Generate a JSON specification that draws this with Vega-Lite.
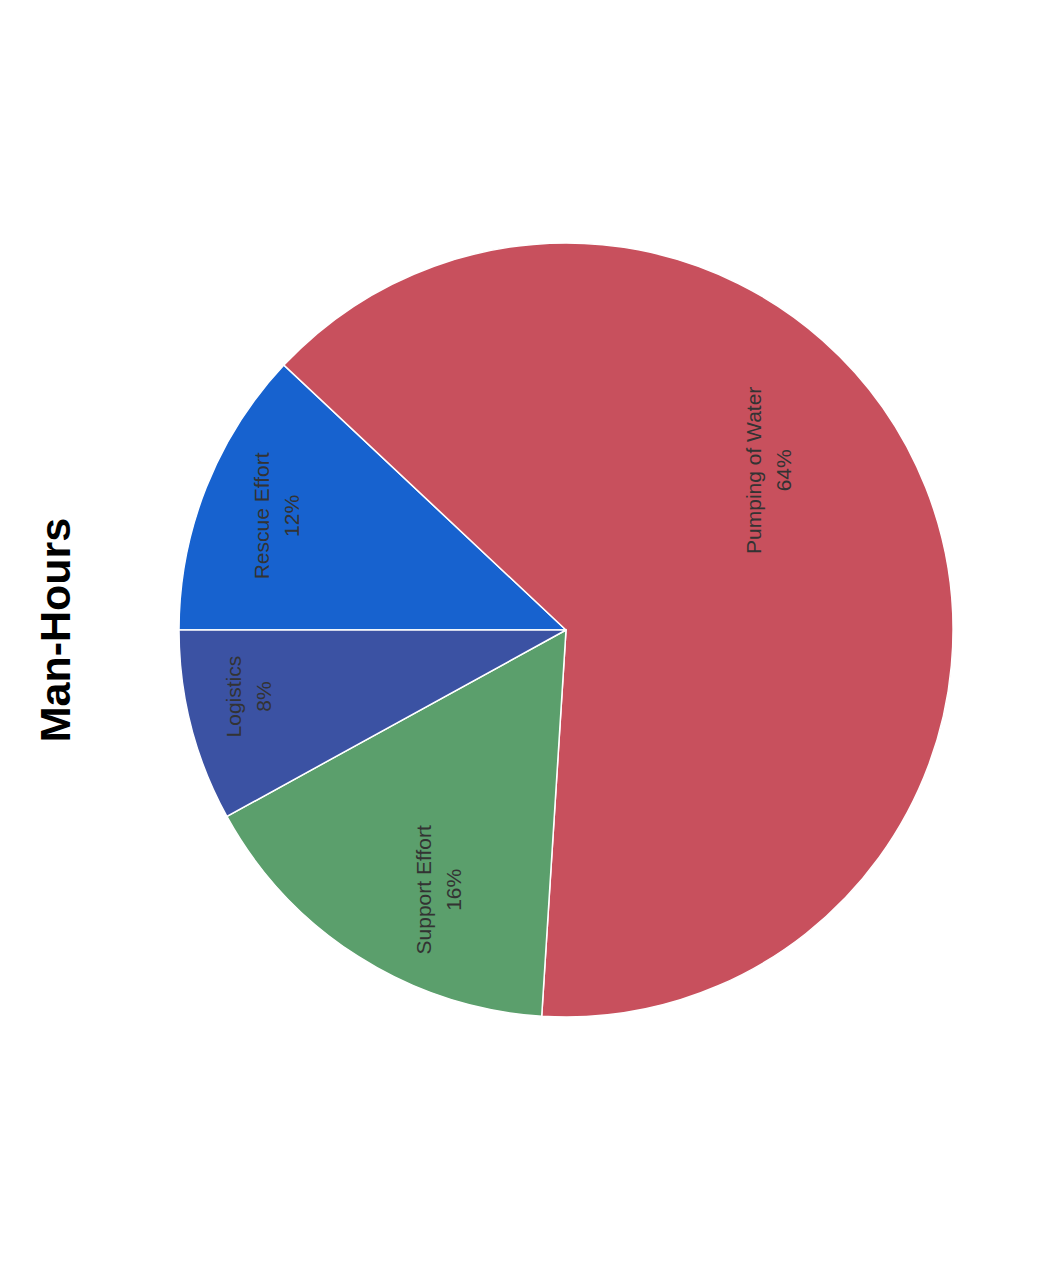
{
  "$schema": "https://vega.github.io/schema/vega-lite/v6.json",
  "width": 774,
  "height": 1260,
  "autosize": {"type": "none"},
  "padding": {"left": 179, "top": 0, "right": 85, "bottom": 12},
  "background": "white",
  "config": {"view": {"stroke": null}},
  "title": {"text": "Man-Hours", "orient": "left", "anchor": "middle", "fontSize": 43, "font": "Liberation Sans", "fontWeight": "bold", "color": "#000000", "offset": 97},
  "data": {"values": [
    {"category": "Rescue Effort", "share": 0.12, "seq": 1},
    {"category": "Pumping of Water", "share": 0.64, "seq": 2},
    {"category": "Support Effort", "share": 0.16, "seq": 3},
    {"category": "Logistics", "share": 0.08, "seq": 4}
  ]},
  "encoding": {
    "theta": {"field": "share", "type": "quantitative", "stack": true, "scale": {"range": [4.712389, 10.995574]}},
    "order": {"field": "seq", "type": "quantitative"}
  },
  "layer": [
    {"mark": {"type": "arc", "outerRadius": 387, "stroke": "white", "strokeWidth": 1.5},
     "encoding": {"color": {"field": "category", "type": "nominal", "legend": null,
       "scale": {"domain": ["Rescue Effort", "Pumping of Water", "Support Effort", "Logistics"], "range": ["#1762cf", "#c8505d", "#5b9f6c", "#3b52a3"]}}}},
    {"mark": {"type": "text", "radius": 310, "angle": 270, "dx": 0, "dy": -15, "fontSize": 21, "font": "Liberation Sans", "color": "#333333"},
     "encoding": {"text": {"condition": {"test": "datum.category === 'Rescue Effort'", "field": "category"}, "value": ""}}},
    {"mark": {"type": "text", "radius": 310, "angle": 270, "dx": 0, "dy": 15, "fontSize": 21, "font": "Liberation Sans", "color": "#333333"},
     "encoding": {"text": {"condition": {"test": "datum.category === 'Rescue Effort'", "field": "share", "type": "quantitative", "format": ".0%"}, "value": ""}}},
    {"mark": {"type": "text", "radius": 320, "angle": 270, "dx": 13, "dy": -21, "fontSize": 21, "font": "Liberation Sans", "color": "#333333"},
     "encoding": {"text": {"condition": {"test": "datum.category === 'Logistics'", "field": "category"}, "value": ""}}},
    {"mark": {"type": "text", "radius": 320, "angle": 270, "dx": 13, "dy": 9, "fontSize": 21, "font": "Liberation Sans", "color": "#333333"},
     "encoding": {"text": {"condition": {"test": "datum.category === 'Logistics'", "field": "share", "type": "quantitative", "format": ".0%"}, "value": ""}}},
    {"mark": {"type": "text", "radius": 290, "angle": 270, "dx": -15, "dy": 14, "fontSize": 21, "font": "Liberation Sans", "color": "#333333"},
     "encoding": {"text": {"condition": {"test": "datum.category === 'Support Effort'", "field": "category"}, "value": ""}}},
    {"mark": {"type": "text", "radius": 290, "angle": 270, "dx": -15, "dy": 44, "fontSize": 21, "font": "Liberation Sans", "color": "#333333"},
     "encoding": {"text": {"condition": {"test": "datum.category === 'Support Effort'", "field": "share", "type": "quantitative", "format": ".0%"}, "value": ""}}},
    {"mark": {"type": "text", "radius": 230, "angle": 270, "dx": 75, "dy": -25, "fontSize": 21, "font": "Liberation Sans", "color": "#333333"},
     "encoding": {"text": {"condition": {"test": "datum.category === 'Pumping of Water'", "field": "category"}, "value": ""}}},
    {"mark": {"type": "text", "radius": 230, "angle": 270, "dx": 75, "dy": 5, "fontSize": 21, "font": "Liberation Sans", "color": "#333333"},
     "encoding": {"text": {"condition": {"test": "datum.category === 'Pumping of Water'", "field": "share", "type": "quantitative", "format": ".0%"}, "value": ""}}}
  ]
}
